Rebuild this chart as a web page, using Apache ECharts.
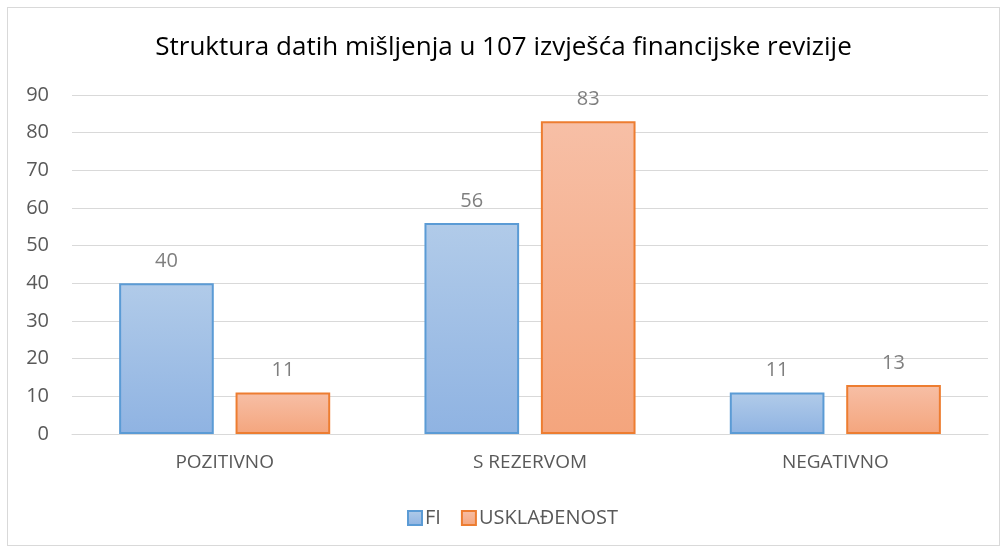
<!DOCTYPE html>
<html>
<head>
<meta charset="utf-8">
<script src="https://cdn.jsdelivr.net/npm/echarts@6/dist/echarts.min.js"></script>
<style>
  html, body { margin: 0; padding: 0; background: #fff; }
  #chart { position: absolute; left: 7px; top: 7px; width: 993px; height: 539px; border: 1px solid #d9d9d9; box-sizing: border-box; }
</style>
</head>
<body>
<div id="chart"></div>
<script>
var categories = ['POZITIVNO', 'S REZERVOM', 'NEGATIVNO'];
var fiValues = [40, 56, 11];
var uskValues = [11, 83, 13];
var yTicks = { min: 0, max: 90, step: 10 };

var font = '"Open Sans", "Noto Sans", sans-serif';

function grad(top, bottom) {
  return new echarts.graphic.LinearGradient(0, 0, 0, 1, [
    { offset: 0, color: top },
    { offset: 1, color: bottom }
  ]);
}

var myChart = echarts.init(document.getElementById('chart'));
var option = {
  animation: false,
  title: {
    text: 'Struktura datih mišljenja u 107 izvješća financijske revizije',
    left: 'center',
    top: 22,
    textStyle: { fontFamily: font, fontSize: 26, fontWeight: 'normal', color: '#000' }
  },
  legend: {
    bottom: 12,
    left: 394,
    itemWidth: 14,
    itemHeight: 14,
    itemGap: 20,
    icon: 'rect',
    textStyle: { fontFamily: font, fontSize: 20, color: '#595959', padding: [0, 0, 0, -2] },
    data: ['FI', 'USKLAĐENOST']
  },
  grid: { left: 64, right: 11, top: 87, bottom: 111 },
  xAxis: {
    type: 'category',
    data: categories,
    axisLine: { lineStyle: { color: '#d9d9d9', width: 1 } },
    axisTick: { show: false },
    axisLabel: { fontFamily: font, fontSize: 19, color: '#595959', margin: 19 }
  },
  yAxis: {
    type: 'value',
    min: yTicks.min,
    max: yTicks.max,
    interval: yTicks.step,
    axisLine: { show: false },
    axisTick: { show: false },
    axisLabel: { fontFamily: font, fontSize: 20, color: '#595959', margin: 23 },
    splitLine: { lineStyle: { color: '#d9d9d9', width: 1 } }
  },
  series: [
    {
      name: 'FI',
      type: 'bar',
      data: fiValues,
      barWidth: '31%',
      barGap: '23%',
      itemStyle: { color: grad('#b1cbe9', '#8fb3e2'), borderColor: '#5b9bd5', borderWidth: 2 },
      label: { show: true, position: 'top', distance: 12, fontFamily: font, fontSize: 20, color: '#7f7f7f' }
    },
    {
      name: 'USKLAĐENOST',
      type: 'bar',
      data: uskValues,
      barWidth: '31%',
      itemStyle: { color: grad('#f7bfa6', '#f4a57d'), borderColor: '#ed7d31', borderWidth: 2 },
      label: { show: true, position: 'top', distance: 12, fontFamily: font, fontSize: 20, color: '#7f7f7f' }
    }
  ]
};
myChart.setOption(option);
window.addEventListener('resize', function () { myChart.resize(); });
</script>
</body>
</html>
